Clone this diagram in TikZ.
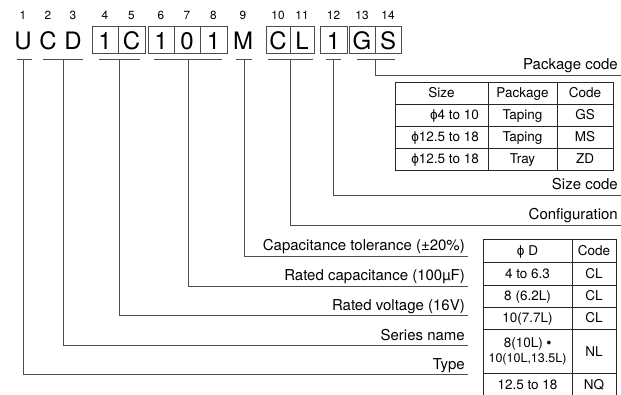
\documentclass[tikz,border=0pt]{standalone}
\usepackage{fontspec}
\setmainfont{TeX Gyre Heros}
\newfontfamily\symfont{Liberation Sans}
\usetikzlibrary{calc,positioning}
\definecolor{LeadGray}{HTML}{4D4D4D}
\definecolor{RuleGray}{HTML}{262626}
\tikzset{
  digitlabel/.style={font=\fontsize{11.8}{12}\selectfont,inner sep=0pt,anchor=base},
  partchar/.style={font=\fontsize{24}{24}\selectfont,inner sep=0pt,
    text height=21pt,text depth=0pt,minimum height=27pt},
  partcell/.style={partchar,draw=LeadGray,line width=.8pt},
  lead/.style={draw=LeadGray,line width=.9pt},
  leadlabel/.style={font=\fontsize{15}{15}\selectfont,inner sep=0pt,anchor=base east},
  tabtext/.style={font=\fontsize{13.5}{13.5}\selectfont,inner sep=0pt,anchor=base},
  tabsmall/.style={font=\fontsize{12.5}{12.5}\selectfont,inner sep=0pt,anchor=base},
  tabrule/.style={draw=RuleGray,line width=.8pt}
}
\newcommand{\UnderY}{59}
\newcommand{\dia}{{\symfont ϕ}}

\begin{document}
\begin{tikzpicture}[x=1pt,y=-1pt]
  \useasboundingbox (0,0) rectangle (621,395);
  % part number characters and their position numbers
  \foreach \n/\ch/\l/\r/\sty in {1/U/14/32/partchar,2/C/39/57/partchar,
      3/D/64/82/partchar,4/1/92/118/partcell,5/C/118/145/partcell,
      6/1/148/174/partcell,7/0/174/200/partcell,8/1/200/227/partcell,
      9/M/233/253/partchar,10/C/266/290/partcell,11/L/290/314/partcell,
      12/1/320/347/partcell,13/G/349/375/partcell,14/S/375/401/partcell}{
    \node[\sty,minimum width={(\r-\l)*1pt}] (c\n) at ({(\l+\r)/2},39.5) {\ch};
    \node[digitlabel] (d\n) at ({(\l+\r)/2},19.3) {\n};
  }
  % underlines and leads to the explanations
  \foreach \g/\ul/\ur/\vx/\ly/\ex/\txt in {
      type/17/32/23/374/468/{Type},
      series/43/83/63/345/468/{Series name},
      volt/99/140/119/315/468/{Rated voltage (16V)},
      cap/154/222/188/286/468/{Rated capacitance (100µF)},
      tol/236/252/244/256/468/{Capacitance tolerance (±20\%)},
      conf/268/313/290/225/621/{Configuration},
      size/326/341/333/195/621/{Size code},
      pkg/357/395/375/75/621/{Package code}}{
    \draw[lead] (\ul,\UnderY) -- (\ur,\UnderY);
    \coordinate (tap-\g) at (\vx,\UnderY);
    \coordinate (end-\g) at (\ex,\ly);
    \draw[lead] (tap-\g) |- (end-\g);
    \node[leadlabel] (lab-\g) at ($(end-\g)+(-3,-5)$) {\txt};
  }
  % package code table
  \draw[tabrule] (395,82) rectangle (613,170);
  \foreach \y in {104,126,148}{\draw[tabrule] (395,\y) -- (613,\y);}
  \foreach \x in {488,557}{\draw[tabrule] (\x,82) -- (\x,170);}
  \node[tabtext] (pk-size) at (441.5,98) {Size};
  \node[tabtext] (pk-pack) at (522.5,98) {Package};
  \node[tabtext] (pk-code) at (585,98) {Code};
  \foreach \i/\y/\sz/\pk/\cd in {1/120/{\dia4 to 10}/Taping/GS,
      2/142/{\dia12.5 to 18}/Taping/MS,3/164/{\dia12.5 to 18}/Tray/ZD}{
    \node[tabtext,anchor=base east] (pk-size\i) at (479,\y) {\sz};
    \node[tabtext] (pk-pack\i) at (522.5,\y) {\pk};
    \node[tabtext] (pk-code\i) at (585,\y) {\cd};
  }
  % configuration table
  \draw[tabrule] (483,395) -- (483,239) -- (616,239) -- (616,395);
  \draw[tabrule] (572,239) -- (572,395);
  \foreach \y in {262,285,307,329,373}{\draw[tabrule] (483,\y) -- (616,\y);}
  \node[tabtext] (cf-dia) at (527.5,255.5) {\dia\ D};
  \node[tabtext] (cf-code) at (594,255.5) {Code};
  \foreach \i/\y/\dd/\cd in {1/278.5/{4 to 6.3}/CL,2/301/{8 (6.2L)}/CL,
      3/323/{10(7.7L)}/CL,5/389/{12.5 to 18}/NQ}{
    \node[tabtext] (cf-dia\i) at (527.5,\y) {\dd};
    \node[tabtext] (cf-code\i) at (594,\y) {\cd};
  }
  \node[tabtext] (cf-dia4a) at (527.5,347) {8(10L) {\symfont •}};
  \node[tabsmall] (cf-dia4b) at (527.5,362.5) {10(10L,13.5L)};
  \node[tabtext] (cf-code4) at (594,356) {NL};
\end{tikzpicture}
\end{document}
